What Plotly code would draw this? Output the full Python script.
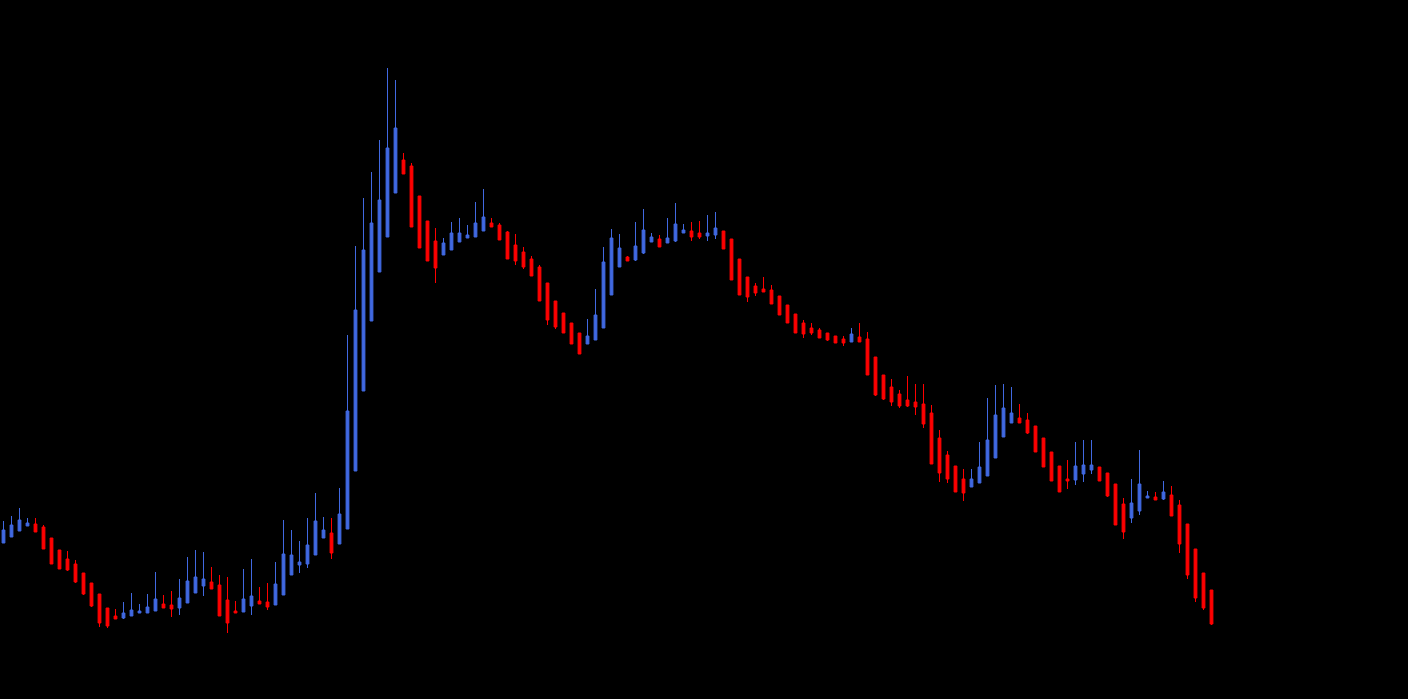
import plotly.graph_objects as go

# OHLC values (arbitrary price units)
opens = [157, 163, 169, 174, 176, 173, 162, 150, 141, 136, 127, 117, 106, 92, 84, 82, 84, 87, 87, 89,
         96, 95, 92, 97, 107, 114, 118, 115, 100, 89, 88, 94, 99, 98, 95, 105, 125, 135, 136, 145,
         162, 167, 156, 171, 229, 309, 379, 428, 463, 507, 540, 534, 504, 479, 459, 445, 450, 458, 462, 463,
         469, 477, 475, 468, 455, 448, 441, 433, 417, 399, 387, 377, 367, 356, 360, 372, 405, 433, 443, 440,
         447, 458, 461, 457, 459, 467, 469, 467, 464, 465, 469, 461, 441, 423, 414, 411, 410, 404, 395, 386,
         377, 372, 370, 367, 364, 361, 358, 363, 361, 343, 325, 313, 306, 300, 298, 296, 287, 262, 245, 234,
         221, 213, 217, 224, 242, 263, 277, 282, 280, 274, 262, 248, 234, 221, 220, 226, 230, 233, 227, 216,
         196, 182, 189, 202, 203, 201, 205, 195, 176, 151, 127, 110]
highs = [179, 184, 192, 182, 182, 175, 162, 150, 149, 140, 127, 117, 106, 92, 91, 98, 107, 96, 106, 128,
         105, 109, 121, 143, 150, 148, 133, 125, 123, 99, 131, 141, 113, 117, 138, 180, 170, 159, 182, 207,
         183, 182, 212, 365, 454, 502, 528, 560, 632, 620, 547, 537, 504, 479, 472, 462, 478, 482, 475, 498,
         511, 482, 477, 469, 466, 453, 444, 435, 417, 399, 387, 377, 367, 381, 411, 453, 471, 466, 444, 478,
         491, 467, 465, 482, 497, 476, 478, 479, 485, 488, 469, 461, 441, 423, 417, 423, 415, 404, 395, 386,
         380, 377, 372, 367, 364, 364, 372, 377, 368, 343, 325, 321, 310, 324, 316, 316, 295, 270, 249, 234,
         231, 231, 258, 302, 315, 316, 313, 296, 287, 274, 262, 248, 234, 240, 258, 260, 260, 233, 227, 216,
         202, 221, 250, 209, 208, 219, 214, 200, 176, 151, 127, 110]
lows = [157, 163, 169, 174, 168, 151, 136, 131, 129, 117, 105, 93, 73, 72, 81, 81, 84, 87, 87, 89,
        92, 83, 85, 97, 107, 104, 111, 84, 67, 87, 88, 85, 96, 90, 95, 105, 125, 127, 132, 145,
        162, 141, 156, 171, 229, 309, 379, 428, 463, 507, 526, 473, 452, 439, 417, 445, 450, 458, 462, 463,
        469, 473, 460, 441, 435, 431, 424, 399, 375, 371, 367, 356, 346, 356, 360, 372, 405, 433, 439, 439,
        446, 458, 453, 457, 458, 467, 459, 461, 459, 461, 451, 420, 405, 398, 404, 408, 396, 385, 377, 367,
        362, 365, 362, 359, 357, 354, 358, 358, 325, 304, 300, 294, 292, 293, 285, 272, 236, 218, 217, 208,
        199, 213, 217, 224, 242, 263, 277, 277, 266, 248, 233, 219, 208, 211, 215, 218, 226, 219, 203, 175,
        161, 177, 185, 202, 200, 200, 184, 147, 121, 98, 90, 75]
closes = [170, 175, 180, 177, 168, 151, 136, 131, 130, 118, 106, 94, 77, 74, 81, 87, 90, 89, 93, 101,
          92, 91, 102, 119, 123, 121, 111, 84, 77, 87, 101, 104, 96, 93, 116, 146, 145, 138, 155, 179,
          170, 147, 186, 289, 390, 450, 477, 500, 552, 572, 526, 473, 452, 439, 432, 457, 467, 467, 465, 477,
          483, 473, 460, 441, 439, 433, 424, 399, 380, 373, 367, 356, 346, 364, 385, 438, 462, 452, 439, 454,
          470, 463, 453, 462, 476, 470, 463, 463, 467, 472, 451, 420, 405, 403, 407, 408, 396, 385, 377, 367,
          366, 367, 362, 360, 357, 357, 366, 358, 325, 305, 301, 298, 294, 294, 293, 276, 236, 227, 221, 208,
          207, 221, 233, 260, 285, 292, 287, 277, 267, 248, 233, 219, 208, 219, 234, 235, 235, 219, 204, 175,
          168, 197, 216, 204, 200, 208, 184, 156, 125, 102, 92, 76]

bars = list(range(len(opens)))

fig = go.Figure(go.Candlestick(
    x=bars,
    open=opens,
    high=highs,
    low=lows,
    close=closes,
    increasing=dict(line=dict(color='#4169E1', width=1), fillcolor='#4169E1'),
    decreasing=dict(line=dict(color='#FF0000', width=1), fillcolor='#FF0000'),
    hoverinfo='skip'
))

fig.update_layout(
    width=1408,
    height=699,
    margin=dict(l=0, r=0, t=0, b=0),
    paper_bgcolor='black',
    plot_bgcolor='black',
    showlegend=False,
    boxgap=0.5,
    xaxis=dict(visible=False, range=[-0.4375, 175.5625], rangeslider=dict(visible=False)),
    yaxis=dict(visible=False, range=[1, 700])
)

# page itself black and without the default body margin
fig.write_html("out.html",
               config={'displayModeBar': False},
               post_script="document.body.style.margin='0';document.body.style.background='black';")
